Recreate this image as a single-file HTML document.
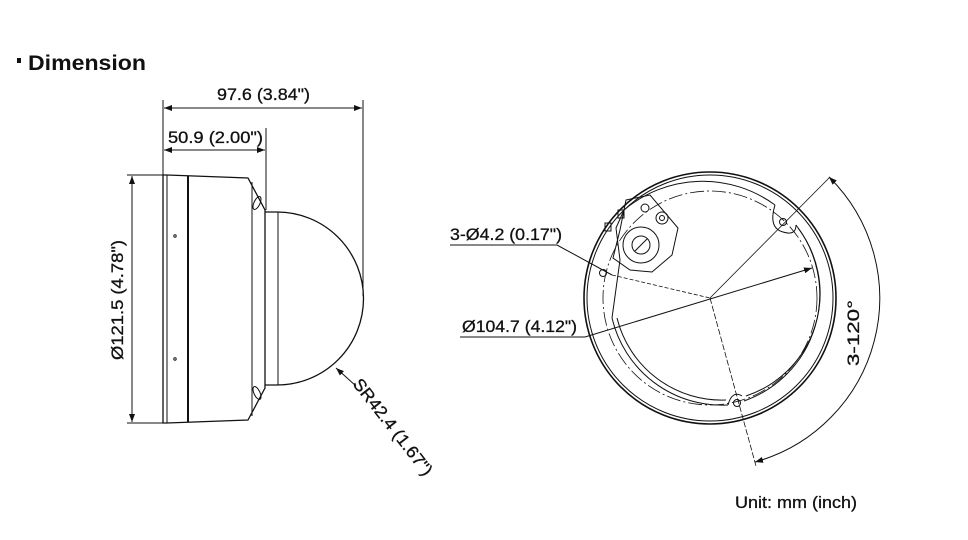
<!DOCTYPE html>
<html><head><meta charset="utf-8"><style>
html,body{margin:0;padding:0;background:#fff;}
svg{display:block;}
text{font-family:"Liberation Sans",sans-serif;fill:#111;}
</style></head><body>
<svg width="968" height="540" viewBox="0 0 968 540" xmlns="http://www.w3.org/2000/svg">
<defs>
<marker id="a" markerWidth="8" markerHeight="6" refX="8" refY="3" orient="auto-start-reverse" markerUnits="userSpaceOnUse"><path d="M0,0 L8,3 L0,6 z" fill="#111"/></marker>
</defs>
<rect x="17" y="58" width="4" height="5" fill="#111"/>
<text x="28" y="70" font-size="21" font-weight="bold" textLength="118" lengthAdjust="spacingAndGlyphs">Dimension</text>

<g stroke="#111" stroke-width="1" fill="none">
<line x1="163" y1="100" x2="163" y2="175"/>
<line x1="363" y1="100" x2="363" y2="296"/>
<line x1="266" y1="128" x2="266" y2="210"/>
<line x1="164" y1="108" x2="362" y2="108" marker-start="url(#a)" marker-end="url(#a)"/>
<line x1="164" y1="150" x2="265" y2="150" marker-start="url(#a)" marker-end="url(#a)"/>
<line x1="127" y1="175" x2="163" y2="175"/>
<line x1="127" y1="423" x2="163" y2="423"/>
<line x1="132" y1="176" x2="132" y2="422" marker-start="url(#a)" marker-end="url(#a)"/>
<path d="M163,175 L167,175 L248,178 L265,210 L265,388 L248,420 L167,423 L163,423 Z" stroke-width="1.3"/>
<line x1="167" y1="175" x2="167" y2="423"/>
<line x1="188" y1="176" x2="188" y2="422" stroke-width="2"/>
<line x1="252" y1="182" x2="252" y2="416"/>
<ellipse cx="257" cy="203" rx="3" ry="7" transform="rotate(25 257 203)"/>
<ellipse cx="257" cy="393" rx="3" ry="7" transform="rotate(-25 257 393)"/>
<circle cx="175" cy="236" r="1.2"/>
<circle cx="175" cy="359" r="1.2"/>
<path d="M265,212 L277,212 A86,86 0 0 1 277,385 L265,385" stroke-width="1.3"/>
<line x1="278" y1="212" x2="278" y2="385"/>
<line x1="336" y1="368" x2="356" y2="386" marker-start="url(#a)"/>

<circle cx="710" cy="298" r="126" stroke-width="1.6"/>
<circle cx="710" cy="298" r="123"/>
<circle cx="710" cy="298" r="107" stroke-dasharray="14,3,2,3" stroke-width="0.8"/>
<path d="M624,210 A122,122 0 0 1 775,205" />
<path d="M796,225 A113,113 0 0 1 744,401" />
<path d="M798,228 A108,108 0 0 1 746,396" />
<path d="M728,405 A113,113 0 0 1 612,318" />
<path d="M726,400 A108,108 0 0 1 617,318" />
<path d="M612,318 L620,260 L616,228 L624,210"/>
<path d="M775,205 Q768,228 783,232 Q796,236 796,225"/>
<path d="M728,405 Q732,390 742,396"/>
<circle cx="783" cy="222" r="3.5"/>
<circle cx="737" cy="403" r="3.5"/>
<circle cx="603" cy="273" r="3.5"/>
<path d="M626,200 L650,195 L678,228 L672,255 L652,272 L630,270 L613,258 L620,230 Z"/>
<circle cx="641" cy="245" r="18"/>
<circle cx="641" cy="245" r="9"/>
<line x1="635" y1="251" x2="647" y2="239"/>
<circle cx="662" cy="218" r="6"/>
<circle cx="662" cy="218" r="2.5"/>
<circle cx="645" cy="208" r="4"/>
<rect x="605" y="223" width="6" height="8"/>
<rect x="618" y="210" width="6" height="8"/>
<polyline points="450,245 557,245 612,275"/>
<line x1="612" y1="275" x2="710" y2="298" stroke-dasharray="4,2" stroke-width="0.8"/>
<polyline points="460,337 585,337 812,268" marker-end="url(#a)"/>
<line x1="710" y1="298" x2="830" y2="177" stroke-width="0.8"/>
<line x1="710" y1="298" x2="756" y2="466" stroke-width="0.8" stroke-dasharray="6,2"/>
<path d="M829,177 A170,170 0 0 1 755,462" marker-start="url(#a)" marker-end="url(#a)"/>
</g>

<g font-size="17" stroke="#111" stroke-width="0.3">
<text x="217" y="100" textLength="93" lengthAdjust="spacingAndGlyphs">97.6 (3.84")</text>
<text x="168" y="143" textLength="95" lengthAdjust="spacingAndGlyphs">50.9 (2.00")</text>
<text transform="translate(123,360) rotate(-90)" textLength="120" lengthAdjust="spacingAndGlyphs">Ø121.5 (4.78")</text>
<text transform="translate(352,384) rotate(52)" textLength="118" lengthAdjust="spacingAndGlyphs">SR42.4 (1.67")</text>
<text x="450" y="240" textLength="112" lengthAdjust="spacingAndGlyphs">3-Ø4.2 (0.17")</text>
<text x="462" y="332" textLength="115" lengthAdjust="spacingAndGlyphs">Ø104.7 (4.12")</text>
<text transform="translate(859,366) rotate(-90)" textLength="66" lengthAdjust="spacingAndGlyphs">3-120°</text>
<text x="735" y="508" textLength="122" lengthAdjust="spacingAndGlyphs">Unit: mm (inch)</text>
</g>
</svg>
</body></html>
